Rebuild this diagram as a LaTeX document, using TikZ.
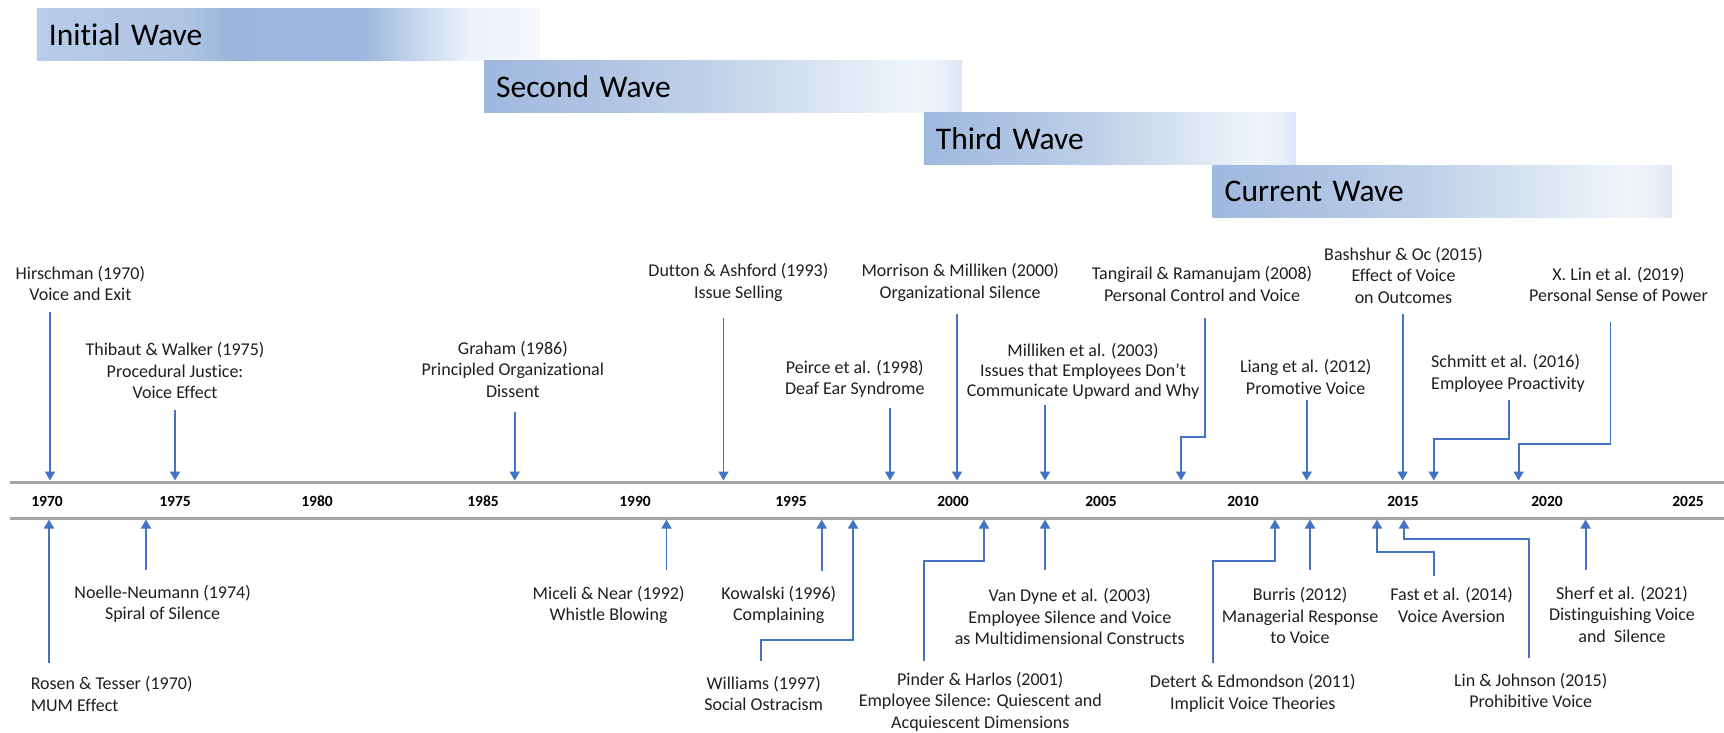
\documentclass[tikz,border=0pt]{standalone}
\usepackage{fontspec}
\setmainfont{Carlito}[Ligatures=NoCommon]
\usetikzlibrary{arrows.meta}

\definecolor{arrowblue}{HTML}{4472C4}
\definecolor{axisgray}{HTML}{A6A6A6}
\definecolor{inktext}{HTML}{1F1F1F}

% bar fills: the path is mapped onto 25bp..75bp of the shading
\pgfdeclarehorizontalshading{initialfade}{100bp}{%
  rgb(0bp)=(0.72,0.80,0.91);
  rgb(25bp)=(0.72,0.80,0.91);
  rgb(40bp)=(0.68,0.77,0.89);
  rgb(44bp)=(0.61,0.71,0.86);
  rgb(57.5bp)=(0.62,0.72,0.87);
  rgb(68bp)=(0.93,0.95,0.98);
  rgb(75bp)=(0.96,0.97,0.99);
  rgb(100bp)=(0.96,0.97,0.99)}
\pgfdeclarehorizontalshading{wavefade}{100bp}{%
  rgb(0bp)=(0.62,0.72,0.87);
  rgb(25bp)=(0.62,0.72,0.87);
  rgb(47bp)=(0.74,0.81,0.91);
  rgb(70bp)=(0.94,0.96,0.98);
  rgb(73bp)=(0.92,0.94,0.97);
  rgb(75bp)=(0.86,0.90,0.96);
  rgb(100bp)=(0.86,0.90,0.96)}

\tikzset{
  cite/.style={align=center, inner sep=0pt, text=inktext,
    font=\fontsize{18}{21.5}\selectfont},
  yearlbl/.style={inner sep=0pt, text=black,
    font=\bfseries\fontsize{15.5}{18}\selectfont},
  wavebar/.style={anchor=north west, minimum height=52pt, inner xsep=12pt,
    inner ysep=0pt, align=left, text=black,
    font=\fontsize{31.5}{36}\selectfont},
  pointer/.style={arrowblue, line width=1.8pt,
    -{Triangle[width=10pt,length=9pt]}},
  axisline/.style={axisgray, line width=3pt},
}

\begin{document}
\begin{tikzpicture}[x=1pt, y=-1pt]
\useasboundingbox (0,0) rectangle (1724,733);

% ---- research waves ----
\node[wavebar, shading=initialfade, text width=479pt] (wave1) at (36.7,8) {Initial Wave};
\node[wavebar, shading=wavefade, text width=454pt] (wave2) at (484,60) {Second Wave};
\node[wavebar, shading=wavefade, text width=348pt] (wave3) at (923.7,112) {Third Wave};
\node[wavebar, shading=wavefade, text width=435.5pt] (wave4) at (1212.5,165) {Current Wave};

% ---- time axis ----
\coordinate (axTL) at (10,482);  \coordinate (axTR) at (1724,482);
\coordinate (axBL) at (10,518);  \coordinate (axBR) at (1724,518);
\draw[axisline] (axTL) -- (axTR);
\draw[axisline] (axBL) -- (axBR);

\foreach \yr/\xx in {1970/47,1975/175,1980/317,1985/483,1990/635,1995/791,
                     2000/953,2005/1101,2010/1243,2015/1403,2020/1547,2025/1688}
  \node[yearlbl] (y\yr) at (\xx,501) {\yr};

% ---- works above the axis ----
\node[cite] (hir) at (80.4,283.5) {Hirschman (1970)\\Voice and Exit};
\node[cite] (thi) at (175,370.6) {Thibaut \& Walker (1975)\\Procedural Justice:\\Voice Effect};
\node[cite] (gra) at (512.8,369.2) {Graham (1986)\\Principled Organizational\\Dissent};
\node[cite] (dut) at (738.4,282.5) {Dutton \& Ashford (1993)\\Issue Selling};
\node[cite] (pei) at (854.8,378.9) {Peirce et al. (1998)\\Deaf Ear Syndrome};
\node[cite] (mor) at (960.2,282.5) {Morrison \& Milliken (2000)\\Organizational Silence};
\node[cite, font=\fontsize{18}{20}\selectfont] (mil) at (1083,371.8) {Milliken et al. (2003)\\Issues that Employees Don’t\\Communicate Upward and Why};
\node[cite] (tan) at (1202,284.2) {Tangirail \& Ramanujam (2008)\\Personal Control and Voice};
\node[cite] (lia) at (1305.7,377.2) {Liang et al. (2012)\\Promotive Voice};
\node[cite] (bas) at (1403.5,275) {Bashshur \& Oc (2015)\\Effect of Voice\\on Outcomes};
\node[cite, align=left, anchor=west] (sch) at (1431,373.4) {Schmitt et al. (2016)\\Employee Proactivity};
\node[cite] (xli) at (1618.5,284.5) {X. Lin et al. (2019)\\Personal Sense of Power};

% pointers down to the axis
\coordinate (hir-s) at (50,312);      \coordinate (hir-t) at (50,480.5);
\coordinate (thi-s) at (175,410);     \coordinate (thi-t) at (175,480.5);
\coordinate (gra-s) at (514.7,411.7); \coordinate (gra-t) at (514.7,480.5);
\coordinate (dut-s) at (723.5,318);   \coordinate (dut-t) at (723.5,480.5);
\coordinate (pei-s) at (890,408);     \coordinate (pei-t) at (890,480.5);
\coordinate (mor-s) at (957,314);     \coordinate (mor-t) at (957,480.5);
\coordinate (mil-s) at (1045,405);    \coordinate (mil-t) at (1045,480.5);
\coordinate (tan-s) at (1205,318);    \coordinate (tan-t) at (1181,480.5);
\coordinate (lia-s) at (1306.7,400);  \coordinate (lia-t) at (1306.7,480.5);
\coordinate (bas-s) at (1402.6,314);  \coordinate (bas-t) at (1402.6,480.5);
\coordinate (sch-s) at (1508.7,400);  \coordinate (sch-t) at (1433.7,480.5);
\coordinate (xli-s) at (1610.5,322);  \coordinate (xli-t) at (1518.6,480.5);

\foreach \w in {hir,thi,gra,dut,pei,mor,mil,lia,bas}
  \draw[pointer] (\w-s) -- (\w-t);
\draw[pointer] (tan-s) -- ++(0,119) -| (tan-t);
\draw[pointer] (sch-s) -- ++(0,39) -| (sch-t);
\draw[pointer] (xli-s) -- ++(0,122) -| (xli-t);

% ---- works below the axis ----
\node[cite, align=left, anchor=west] (ros) at (30.6,694) {Rosen \& Tesser (1970)\\MUM Effect};
\node[cite] (noe) at (162.6,603.7) {Noelle-Neumann (1974)\\Spiral of Silence};
\node[cite] (mic) at (608.6,605) {Miceli \& Near (1992)\\Whistle Blowing};
\node[cite] (kow) at (778.8,605) {Kowalski (1996)\\Complaining};
\node[cite] (wil) at (763.7,693.3) {Williams (1997)\\Social Ostracism};
\node[cite] (pin) at (980.3,701.7) {Pinder \& Harlos (2001)\\Employee Silence: Quiescent and\\Acquiescent Dimensions};
\node[cite] (van) at (1069.8,616.7) {Van Dyne et al. (2003)\\Employee Silence and Voice\\as Multidimensional Constructs};
\node[cite] (det) at (1252.8,693.2) {Detert \& Edmondson (2011)\\Implicit Voice Theories};
\node[cite] (bur) at (1300,615.9) {Burris (2012)\\Managerial Response\\to Voice};
\node[cite] (fas) at (1451.6,605.2) {Fast et al. (2014)\\Voice Aversion};
\node[cite] (lij) at (1530.7,690.5) {Lin \& Johnson (2015)\\Prohibitive Voice};
\node[cite] (she) at (1622,614.2) {Sherf et al. (2021)\\Distinguishing Voice\\and\ \ Silence};

% pointers up to the axis
\coordinate (ros-s) at (49,663);      \coordinate (ros-t) at (49,519.5);
\coordinate (noe-s) at (146,570);     \coordinate (noe-t) at (146,519.5);
\coordinate (mic-s) at (666.5,570);   \coordinate (mic-t) at (666.5,519.5);
\coordinate (kow-s) at (821.7,571);   \coordinate (kow-t) at (821.7,519.5);
\coordinate (wil-s) at (760.6,661);   \coordinate (wil-t) at (853,519.5);
\coordinate (pin-s) at (924,661);     \coordinate (pin-t) at (984,519.5);
\coordinate (van-s) at (1045,570);    \coordinate (van-t) at (1045,519.5);
\coordinate (det-s) at (1213,663);    \coordinate (det-t) at (1275,519.5);
\coordinate (bur-s) at (1310,570);    \coordinate (bur-t) at (1310,519.5);
\coordinate (fas-s) at (1434,576);    \coordinate (fas-t) at (1377,519.5);
\coordinate (lij-s) at (1528.7,658);  \coordinate (lij-t) at (1404,519.5);
\coordinate (she-s) at (1585.6,570);  \coordinate (she-t) at (1585.6,519.5);

\foreach \w in {ros,noe,mic,kow,van,bur,she}
  \draw[pointer] (\w-s) -- (\w-t);
\draw[pointer] (wil-s) -- ++(0,-21) -| (wil-t);
\draw[pointer] (pin-s) -- ++(0,-100) -| (pin-t);
\draw[pointer] (det-s) -- ++(0,-102) -| (det-t);
\draw[pointer] (fas-s) -- ++(0,-24) -| (fas-t);
\draw[pointer] (lij-s) -- ++(0,-119) -| (lij-t);

\end{tikzpicture}
\end{document}
